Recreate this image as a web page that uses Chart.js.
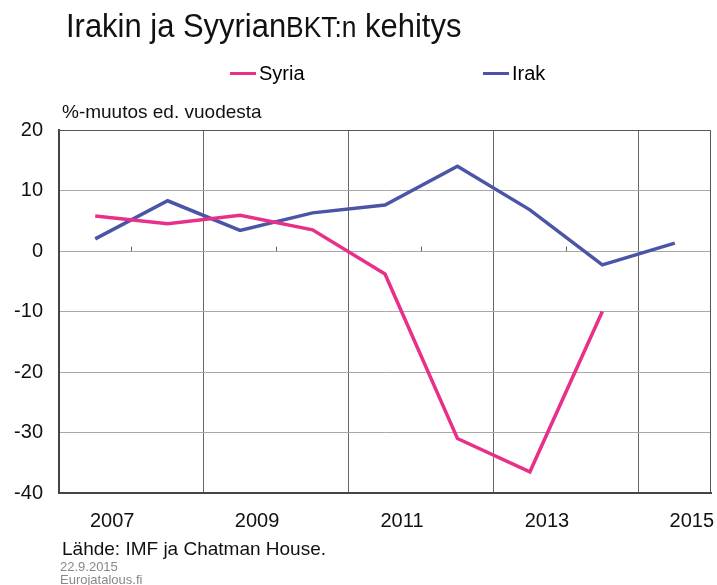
<!DOCTYPE html>
<html>
<head>
<meta charset="utf-8">
<script src="https://cdn.jsdelivr.net/npm/chart.js@4/dist/chart.umd.min.js"></script>
<style>
  body { margin: 0; background: #fff; font-family: "Liberation Sans Narrow", "Liberation Sans", Arial, sans-serif; }
  #wrap { position: relative; width: 717px; height: 585px; overflow: hidden; }
  #chart { position: absolute; left: 0; top: 0; }
  .txt { position: absolute; white-space: nowrap; color: #111; }
  #title { left: 66px; top: 6px; font-size: 34px; transform: scaleX(0.91); transform-origin: left top; }
  #title span { font-size: 29px; }
  #unit { left: 62px; top: 101px; font-size: 19px; }
  #source { left: 62px; top: 538px; font-size: 19px; }
  #date { left: 60px; top: 559px; font-size: 13px; color: #888; font-family: "Liberation Sans", Arial, sans-serif; }
  #site { left: 60px; top: 572px; font-size: 13px; color: #888; font-family: "Liberation Sans", Arial, sans-serif; }
  .leg { position: absolute; top: 62px; font-size: 20px; display: flex; align-items: center; }
  .leg i { display: inline-block; width: 26px; height: 3px; margin-right: 3px; }
</style>
</head>
<body>
<div id="wrap">
  <canvas id="chart" width="717" height="585"></canvas>
  <div class="txt" id="title">Irakin ja Syyrian<span>BKT:n</span> kehitys</div>
  <div id="legend"></div>
  <div class="txt" id="unit">%-muutos ed. vuodesta</div>
  <div class="txt" id="source">Lähde: IMF ja Chatman House.</div>
  <div class="txt" id="date">22.9.2015</div>
  <div class="txt" id="site">Eurojatalous.fi</div>
</div>
<script>
// ================= DATA =================
const years = ['2007', '2008', '2009', '2010', '2011', '2012', '2013', '2014', '2015'];
const syria = [5.8, 4.5, 5.9, 3.5, -3.8, -31.0, -36.5, -10.0, null];
const irak  = [2.0, 8.3, 3.4, 6.3, 7.6, 14.0, 6.8, -2.3, 1.3];
const yTicks = { min: -40, max: 20, step: 10 };

const PINK = '#e8308a';
const BLUE = '#4b55a6';

// --- legend (html, positioned like the original) ---
const legendPos = [{ label: 'Syria', color: PINK, left: 230 }, { label: 'Irak', color: BLUE, left: 483 }];
document.getElementById('legend').innerHTML = legendPos.map(l =>
    `<div class="leg" style="left:${l.left}px"><i style="background:${l.color}"></i>${l.label}</div>`
).join('');

// frame + small ticks on the zero line
const framePlugin = {
    id: 'frame',
    afterDraw(chart) {
        const { ctx, chartArea: a, scales: { x, y } } = chart;
        ctx.save();
        ctx.strokeStyle = '#555';
        ctx.lineWidth = 1;
        ctx.beginPath();
        ctx.moveTo(a.left, a.top + 0.5);
        ctx.lineTo(a.right - 0.5, a.top + 0.5);
        ctx.lineTo(a.right - 0.5, a.bottom);
        ctx.stroke();

        const zero = Math.round(y.getPixelForValue(0)) + 0.5;
        const half = (x.getPixelForValue(1) - x.getPixelForValue(0)) / 2;
        ctx.strokeStyle = '#666';
        ctx.beginPath();
        for (let i = 1; i < years.length; i += 2) {
            const px = Math.round(x.getPixelForValue(i) - half) + 0.5;
            ctx.moveTo(px, zero);
            ctx.lineTo(px, zero - 5);
        }
        ctx.stroke();
        ctx.restore();
    }
};

const tickFont = { family: '"Liberation Sans Narrow", "Liberation Sans", Arial, sans-serif', size: 20 };

new Chart(document.getElementById('chart').getContext('2d'), {
    type: 'line',
    data: {
        labels: years,
        datasets: [
            { label: 'Syria', data: syria, borderColor: PINK, borderWidth: 3.5, pointRadius: 0, tension: 0, spanGaps: false },
            { label: 'Irak', data: irak, borderColor: BLUE, borderWidth: 3.5, pointRadius: 0, tension: 0 }
        ]
    },
    options: {
        responsive: false,
        animation: false,
        layout: { padding: { left: 0, top: 130, right: 6, bottom: 0 } },
        plugins: { legend: { display: false }, tooltip: { enabled: false } },
        scales: {
            x: {
                type: 'category',
                offset: true,
                grid: {
                    offset: true,
                    drawTicks: false,
                    lineWidth: 1,
                    color: c => (c.index % 2 === 0 && c.index > 0) ? '#666' : 'rgba(0,0,0,0)'
                },
                border: { color: '#444', width: 2 },
                ticks: {
                    color: '#111',
                    font: tickFont,
                    padding: 16,
                    labelOffset: 17,
                    autoSkip: false,
                    maxRotation: 0,
                    callback: (v, i) => i % 2 === 0 ? years[i] : ''
                },
                afterFit: s => { s.height = 92; }
            },
            y: {
                min: yTicks.min,
                max: yTicks.max,
                grid: { color: '#a8a8a8', lineWidth: 1, drawTicks: false },
                border: { color: '#444', width: 2 },
                ticks: { stepSize: yTicks.step, color: '#111', font: tickFont, padding: 16 },
                afterFit: s => { s.width = 59; }
            }
        }
    },
    plugins: [framePlugin]
});
</script>
</body>
</html>
